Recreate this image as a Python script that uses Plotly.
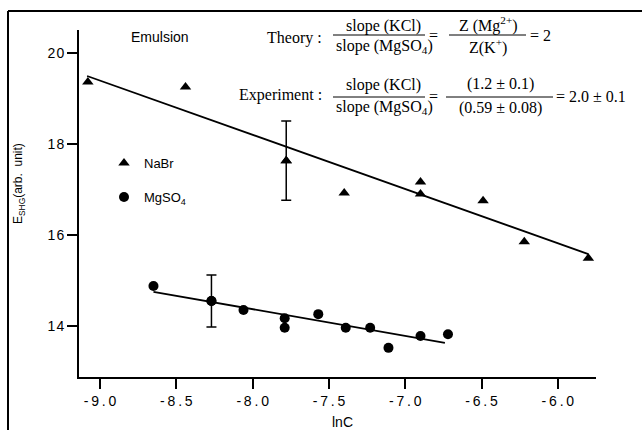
import plotly.graph_objects as go

# ---- data ----
nabr_x = [-9.08, -8.44, -7.78, -7.40, -6.90, -6.90, -6.49, -6.22, -5.80]
nabr_y = [19.36, 19.25, 17.63, 16.92, 17.16, 16.90, 16.75, 15.85, 15.49]
nabr_err_x = [-7.78]
nabr_err_y = [17.63]
nabr_err = [0.87]
nabr_fit_x = [-9.085, -5.80]
nabr_fit_y = [19.49, 15.58]

mg_x = [-8.65, -8.27, -8.06, -7.79, -7.79, -7.57, -7.39, -7.23, -7.11, -6.90, -6.72]
mg_y = [14.88, 14.55, 14.35, 14.17, 13.96, 14.26, 13.96, 13.96, 13.52, 13.78, 13.82]
mg_err_x = [-8.27]
mg_err_y = [14.55]
mg_err = [0.57]
mg_fit_x = [-8.65, -6.74]
mg_fit_y = [14.75, 13.63]

x_ticks = [-9.0, -8.5, -8.0, -7.5, -7.0, -6.5, -6.0]
x_ticktext = ["-\u20099\u2009.\u20090", "-\u20098\u2009.\u20095", "-\u20098\u2009.\u20090",
              "-\u20097\u2009.\u20095", "-\u20097\u2009.\u20090", "-\u20096\u2009.\u20095",
              "-\u20096\u2009.\u20090"]
y_ticks = [14, 16, 18, 20]
y_ticktext = ["1\u200a4", "1\u200a6", "1\u200a8", "2\u200a0"]

# ---- layout geometry (screen pixels) ----
W, H = 642, 430
L, R, T, B = 79, 596, 30, 377   # plot area


def px(x):
    return (x - L) / (R - L)


def py(y):
    return (B - y) / (B - T)


SANS = "Liberation Sans, Arial, sans-serif"
SERIF = "Liberation Serif, Times New Roman, serif"
black = "black"

fig = go.Figure()

fig.add_trace(go.Scatter(x=nabr_fit_x, y=nabr_fit_y, mode="lines",
                         line=dict(color=black, width=1.8), showlegend=False, hoverinfo="skip"))
fig.add_trace(go.Scatter(x=mg_fit_x, y=mg_fit_y, mode="lines",
                         line=dict(color=black, width=1.8), showlegend=False, hoverinfo="skip"))

fig.add_trace(go.Scatter(x=nabr_x, y=nabr_y, mode="markers", name="NaBr",
                         marker=dict(symbol="triangle-up", size=10, color=black),
                         legend="legend"))
fig.add_trace(go.Scatter(x=mg_x, y=mg_y, mode="markers", name="MgSO<sub>4</sub>",
                         marker=dict(symbol="circle", size=10, color=black),
                         legend="legend2"))

fig.add_trace(go.Scatter(x=nabr_err_x, y=nabr_err_y, mode="markers",
                         marker=dict(symbol="triangle-up", size=10, color=black),
                         error_y=dict(type="data", array=nabr_err, color=black, thickness=1.5, width=5),
                         showlegend=False))
fig.add_trace(go.Scatter(x=mg_err_x, y=mg_err_y, mode="markers",
                         marker=dict(symbol="circle", size=10, color=black),
                         error_y=dict(type="data", array=mg_err, color=black, thickness=1.5, width=5),
                         showlegend=False))

axis_common = dict(showline=True, linecolor=black, linewidth=1.8, ticks="outside",
                   ticklen=10, tickwidth=1.5, tickcolor=black, showgrid=False, zeroline=False,
                   mirror=False, tickfont=dict(family=SANS, size=14, color=black))

fig.update_xaxes(range=[-9.138, -5.75], tickvals=x_ticks, ticktext=x_ticktext, **axis_common)
fig.update_yaxes(range=[12.88, 20.5], tickvals=y_ticks, ticktext=y_ticktext, **axis_common)

annotations = []


def ann(text, x, y, size=16, family=SERIF, xanchor="center", yanchor="middle", textangle=0):
    annotations.append(dict(text=text, x=px(x), y=py(y), xref="paper", yref="paper",
                            showarrow=False, xanchor=xanchor, yanchor=yanchor,
                            font=dict(family=family, size=size, color=black),
                            textangle=textangle))


ann("Emulsion", 160, 37, size=14, family=SANS)
ann("lnC", 342, 422, size=14, family=SANS)
ann("E<sub>SHG</sub>(arb.  unit)", 19, 184, size=12, family=SANS, textangle=-90)

# Theory row
ann("Theory :", 324, 38, xanchor="right")
ann("slope (KCl)", 383, 26)
ann("slope (MgSO<sub>4</sub>)", 384, 47)
ann("=", 433, 35)
ann("Z (Mg<sup>2+</sup>)", 488, 25)
ann("Z(K<sup>+</sup>)", 488, 47)
ann("= 2", 528, 35, xanchor="left")

# Experiment row
ann("Experiment :", 324, 95, xanchor="right")
ann("slope (KCl)", 383, 85)
ann("slope (MgSO<sub>4</sub>)", 384, 108)
ann("=", 433, 97)
ann("(1.2 ± 0.1)", 500, 84)
ann("(0.59 ± 0.08)", 500, 108)
ann("= 2.0 ± 0.1", 554, 97, xanchor="left")

shapes = []


def hline(x0, x1, y, w=1.0):
    shapes.append(dict(type="line", xref="paper", yref="paper", x0=px(x0), x1=px(x1),
                       y0=py(y), y1=py(y), line=dict(color=black, width=w)))


hline(333, 425, 35)
hline(449, 526, 35)
hline(333, 425, 97)
hline(446, 553, 97)
# outer frame (top and left)
hline(8, 642, 11, w=2)
shapes.append(dict(type="line", xref="paper", yref="paper", x0=px(8), x1=px(8),
                   y0=py(11), y1=py(430), line=dict(color=black, width=2)))

legend_common = dict(bgcolor="rgba(0,0,0,0)", borderwidth=0, xanchor="left", yanchor="middle",
                     font=dict(family=SANS, size=13, color=black), itemwidth=30)

fig.update_layout(
    width=W, height=H,
    margin=dict(l=L, r=W - R, t=T, b=H - B),
    paper_bgcolor="white", plot_bgcolor="white",
    annotations=annotations, shapes=shapes,
    legend=dict(x=px(104), y=py(163), **legend_common),
    legend2=dict(x=px(104), y=py(197), **legend_common),
)

fig.write_html("out.html",
               config={"displayModeBar": False},
               post_script="document.body.style.margin='0';document.body.style.overflow='hidden';")
